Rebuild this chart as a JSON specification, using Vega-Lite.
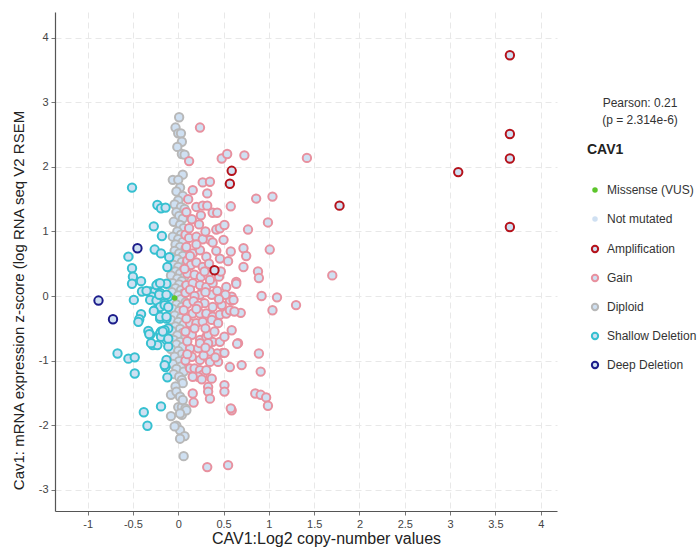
{
  "$schema": "https://vega.github.io/schema/vega-lite/v6.json",
  "width": 502,
  "height": 499,
  "autosize": "none",
  "padding": {"left": 55, "top": 12, "right": 143, "bottom": 39},
  "background": "white",
  "title": {
    "text": ["Pearson: 0.21", "(p = 2.314e-6)"],
    "anchor": "end",
    "frame": "group",
    "align": "center",
    "baseline": "bottom",
    "offset": 0,
    "dx": 83,
    "dy": 127,
    "fontSize": 12,
    "fontWeight": "normal",
    "font": "Liberation Sans",
    "color": "#333",
    "lineHeight": 17
  },
  "data": {
    "values": [
      {"x":0.01,"y":2.77,"c":"Diploid"},{"x":-0.03,"y":2.61,"c":"Diploid"},{"x":0.0,"y":2.52,"c":"Diploid"},{"x":0.03,"y":2.52,"c":"Diploid"},{"x":0.04,"y":2.39,"c":"Diploid"},{"x":-0.01,"y":2.31,"c":"Diploid"},{"x":0.04,"y":2.2,"c":"Diploid"},{"x":0.07,"y":2.19,"c":"Diploid"},{"x":0.05,"y":1.88,"c":"Diploid"},{"x":-0.06,"y":1.8,"c":"Diploid"},{"x":0.0,"y":1.8,"c":"Diploid"},
      {"x":0.02,"y":1.68,"c":"Diploid"},{"x":-0.02,"y":1.62,"c":"Diploid"},{"x":0.05,"y":1.55,"c":"Diploid"},{"x":0.0,"y":1.48,"c":"Diploid"},{"x":-0.04,"y":1.42,"c":"Diploid"},{"x":0.03,"y":1.38,"c":"Diploid"},{"x":0.07,"y":1.35,"c":"Diploid"},{"x":-0.02,"y":1.3,"c":"Diploid"},{"x":0.01,"y":1.24,"c":"Diploid"},{"x":0.05,"y":1.2,"c":"Diploid"},{"x":-0.05,"y":1.15,"c":"Diploid"},{"x":0.02,"y":1.1,"c":"Diploid"},{"x":0.06,"y":1.05,"c":"Diploid"},{"x":-0.01,"y":1.0,"c":"Diploid"},{"x":0.03,"y":0.95,"c":"Diploid"},{"x":-0.06,"y":0.92,"c":"Diploid"},{"x":0.0,"y":0.88,"c":"Diploid"},{"x":0.05,"y":0.84,"c":"Diploid"},{"x":-0.03,"y":0.8,"c":"Diploid"},{"x":0.02,"y":0.76,"c":"Diploid"},{"x":0.08,"y":0.73,"c":"Diploid"},{"x":-0.04,"y":0.7,"c":"Diploid"},{"x":0.01,"y":0.66,"c":"Diploid"},{"x":0.05,"y":0.62,"c":"Diploid"},{"x":-0.07,"y":0.6,"c":"Diploid"},{"x":-0.01,"y":0.57,"c":"Diploid"},{"x":0.04,"y":0.53,"c":"Diploid"},{"x":0.09,"y":0.5,"c":"Diploid"},{"x":-0.05,"y":0.48,"c":"Diploid"},{"x":0.0,"y":0.45,"c":"Diploid"},{"x":0.06,"y":0.41,"c":"Diploid"},{"x":-0.03,"y":0.38,"c":"Diploid"},{"x":0.02,"y":0.35,"c":"Diploid"},{"x":-0.08,"y":0.32,"c":"Diploid"},{"x":0.07,"y":0.3,"c":"Diploid"},{"x":-0.01,"y":0.27,"c":"Diploid"},{"x":0.04,"y":0.23,"c":"Diploid"},{"x":-0.06,"y":0.2,"c":"Diploid"},{"x":0.01,"y":0.18,"c":"Diploid"},{"x":0.08,"y":0.15,"c":"Diploid"},{"x":-0.03,"y":0.12,"c":"Diploid"},{"x":0.03,"y":0.09,"c":"Diploid"},{"x":-0.07,"y":0.06,"c":"Diploid"},{"x":0.06,"y":0.04,"c":"Diploid"},{"x":0.0,"y":0.01,"c":"Diploid"},{"x":0.03,"y":-0.05,"c":"Diploid"},{"x":-0.08,"y":-0.08,"c":"Diploid"},{"x":0.08,"y":-0.1,"c":"Diploid"},{"x":-0.02,"y":-0.13,"c":"Diploid"},{"x":0.04,"y":-0.17,"c":"Diploid"},{"x":-0.06,"y":-0.2,"c":"Diploid"},{"x":0.01,"y":-0.23,"c":"Diploid"},{"x":0.07,"y":-0.27,"c":"Diploid"},{"x":-0.04,"y":-0.3,"c":"Diploid"},{"x":0.03,"y":-0.34,"c":"Diploid"},{"x":-0.08,"y":-0.37,"c":"Diploid"},{"x":0.0,"y":-0.4,"c":"Diploid"},{"x":0.06,"y":-0.44,"c":"Diploid"},{"x":-0.03,"y":-0.47,"c":"Diploid"},{"x":0.02,"y":-0.51,"c":"Diploid"},{"x":-0.07,"y":-0.54,"c":"Diploid"},{"x":0.05,"y":-0.57,"c":"Diploid"},{"x":-0.01,"y":-0.61,"c":"Diploid"},{"x":0.08,"y":-0.64,"c":"Diploid"},{"x":-0.05,"y":-0.68,"c":"Diploid"},{"x":0.02,"y":-0.71,"c":"Diploid"},{"x":-0.02,"y":-0.75,"c":"Diploid"},{"x":0.05,"y":-0.79,"c":"Diploid"},{"x":-0.08,"y":-0.82,"c":"Diploid"},{"x":0.0,"y":-0.85,"c":"Diploid"},{"x":0.04,"y":-0.9,"c":"Diploid"},{"x":-0.04,"y":-0.94,"c":"Diploid"},{"x":0.07,"y":-0.97,"c":"Diploid"},{"x":0.01,"y":-1.01,"c":"Diploid"},{"x":-0.06,"y":-1.05,"c":"Diploid"},{"x":0.03,"y":-1.09,"c":"Diploid"},{"x":-0.02,"y":-1.13,"c":"Diploid"},{"x":0.06,"y":-1.17,"c":"Diploid"},{"x":-0.05,"y":-1.21,"c":"Diploid"},{"x":0.01,"y":-1.25,"c":"Diploid"},{"x":0.04,"y":-1.3,"c":"Diploid"},{"x":0.05,"y":-1.35,"c":"Diploid"},{"x":-0.03,"y":-1.4,"c":"Diploid"},
      {"x":-0.08,"y":-1.53,"c":"Diploid"},{"x":-0.02,"y":-1.48,"c":"Diploid"},{"x":0.02,"y":-1.56,"c":"Diploid"},{"x":0.0,"y":-1.72,"c":"Diploid"},{"x":0.04,"y":-1.72,"c":"Diploid"},{"x":0.08,"y":-1.74,"c":"Diploid"},{"x":-0.08,"y":-1.86,"c":"Diploid"},{"x":0.04,"y":-1.84,"c":"Diploid"},{"x":-0.02,"y":-2.01,"c":"Diploid"},{"x":0.02,"y":-2.08,"c":"Diploid"},{"x":0.07,"y":-2.17,"c":"Diploid"},{"x":0.02,"y":-2.21,"c":"Diploid"},{"x":0.06,"y":-2.48,"c":"Diploid"},{"x":0.05,"y":-1.61,"c":"Diploid"},{"x":0.09,"y":-1.77,"c":"Diploid"},{"x":-0.04,"y":-2.02,"c":"Diploid"},{"x":0.02,"y":-1.82,"c":"Diploid"},
      {"x":-0.51,"y":1.68,"c":"Shallow Deletion"},{"x":-0.23,"y":1.41,"c":"Shallow Deletion"},{"x":-0.19,"y":1.36,"c":"Shallow Deletion"},{"x":-0.14,"y":1.37,"c":"Shallow Deletion"},{"x":-0.27,"y":1.08,"c":"Shallow Deletion"},{"x":-0.18,"y":0.93,"c":"Shallow Deletion"},{"x":-0.26,"y":0.72,"c":"Shallow Deletion"},{"x":-0.19,"y":0.66,"c":"Shallow Deletion"},{"x":-0.55,"y":0.61,"c":"Shallow Deletion"},{"x":-0.51,"y":0.43,"c":"Shallow Deletion"},{"x":-0.5,"y":0.3,"c":"Shallow Deletion"},{"x":-0.51,"y":0.19,"c":"Shallow Deletion"},{"x":-0.41,"y":0.23,"c":"Shallow Deletion"},{"x":-0.4,"y":0.07,"c":"Shallow Deletion"},{"x":-0.49,"y":-0.06,"c":"Shallow Deletion"},{"x":-0.31,"y":0.07,"c":"Shallow Deletion"},{"x":-0.26,"y":0.07,"c":"Shallow Deletion"},{"x":-0.22,"y":0.19,"c":"Shallow Deletion"},{"x":-0.13,"y":0.19,"c":"Shallow Deletion"},{"x":-0.2,"y":0.05,"c":"Shallow Deletion"},{"x":-0.29,"y":-0.01,"c":"Shallow Deletion"},{"x":-0.31,"y":-0.06,"c":"Shallow Deletion"},{"x":-0.11,"y":-0.01,"c":"Shallow Deletion"},{"x":-0.24,"y":-0.07,"c":"Shallow Deletion"},{"x":-0.15,"y":-0.11,"c":"Shallow Deletion"},{"x":-0.26,"y":-0.22,"c":"Shallow Deletion"},{"x":-0.2,"y":-0.17,"c":"Shallow Deletion"},{"x":-0.41,"y":-0.28,"c":"Shallow Deletion"},{"x":-0.43,"y":-0.36,"c":"Shallow Deletion"},{"x":-0.44,"y":-0.4,"c":"Shallow Deletion"},{"x":-0.2,"y":-0.35,"c":"Shallow Deletion"},{"x":-0.13,"y":-0.35,"c":"Shallow Deletion"},{"x":-0.11,"y":-0.5,"c":"Shallow Deletion"},{"x":-0.19,"y":-0.55,"c":"Shallow Deletion"},{"x":-0.15,"y":-0.53,"c":"Shallow Deletion"},{"x":-0.33,"y":-0.54,"c":"Shallow Deletion"},{"x":-0.31,"y":-0.6,"c":"Shallow Deletion"},{"x":-0.28,"y":-0.76,"c":"Shallow Deletion"},{"x":-0.23,"y":-0.76,"c":"Shallow Deletion"},{"x":-0.13,"y":-0.68,"c":"Shallow Deletion"},{"x":-0.11,"y":-0.78,"c":"Shallow Deletion"},{"x":-0.67,"y":-0.89,"c":"Shallow Deletion"},{"x":-0.55,"y":-0.97,"c":"Shallow Deletion"},{"x":-0.48,"y":-0.95,"c":"Shallow Deletion"},{"x":-0.48,"y":-1.2,"c":"Shallow Deletion"},{"x":-0.13,"y":-0.99,"c":"Shallow Deletion"},{"x":-0.14,"y":-1.1,"c":"Shallow Deletion"},{"x":-0.12,"y":-1.26,"c":"Shallow Deletion"},{"x":-0.19,"y":-1.71,"c":"Shallow Deletion"},{"x":-0.38,"y":-1.8,"c":"Shallow Deletion"},{"x":-0.34,"y":-2.01,"c":"Shallow Deletion"},{"x":-0.35,"y":0.08,"c":"Shallow Deletion"},{"x":-0.24,"y":0.17,"c":"Shallow Deletion"},{"x":-0.2,"y":0.2,"c":"Shallow Deletion"},{"x":-0.21,"y":0.02,"c":"Shallow Deletion"},{"x":-0.13,"y":0.02,"c":"Shallow Deletion"},{"x":-0.32,"y":-0.59,"c":"Shallow Deletion"},{"x":-0.2,"y":-0.58,"c":"Shallow Deletion"},{"x":-0.19,"y":-0.63,"c":"Shallow Deletion"},{"x":-0.2,"y":-0.32,"c":"Shallow Deletion"},{"x":-0.13,"y":-0.32,"c":"Shallow Deletion"},{"x":-0.15,"y":-0.14,"c":"Shallow Deletion"},{"x":-0.11,"y":-0.17,"c":"Shallow Deletion"},{"x":-0.27,"y":-0.23,"c":"Shallow Deletion"},{"x":-0.3,"y":-0.73,"c":"Shallow Deletion"},{"x":-0.15,"y":-1.07,"c":"Shallow Deletion"},{"x":-0.11,"y":-0.66,"c":"Shallow Deletion"},{"x":-0.17,"y":-0.55,"c":"Shallow Deletion"},{"x":-0.12,"y":0.45,"c":"Shallow Deletion"},{"x":-0.1,"y":0.6,"c":"Shallow Deletion"},
      {"x":0.12,"y":2.09,"c":"Gain"},{"x":0.24,"y":2.61,"c":"Gain"},{"x":0.48,"y":2.13,"c":"Gain"},{"x":0.54,"y":2.2,"c":"Gain"},{"x":0.73,"y":2.18,"c":"Gain"},{"x":1.42,"y":2.14,"c":"Gain"},{"x":0.27,"y":1.76,"c":"Gain"},{"x":0.35,"y":1.77,"c":"Gain"},{"x":0.16,"y":1.64,"c":"Gain"},{"x":0.32,"y":1.59,"c":"Gain"},{"x":0.86,"y":1.51,"c":"Gain"},{"x":1.04,"y":1.54,"c":"Gain"},{"x":0.58,"y":1.39,"c":"Gain"},{"x":0.2,"y":1.38,"c":"Gain"},{"x":0.27,"y":1.4,"c":"Gain"},{"x":0.32,"y":1.4,"c":"Gain"},{"x":0.38,"y":1.29,"c":"Gain"},{"x":0.43,"y":1.29,"c":"Gain"},{"x":0.15,"y":1.19,"c":"Gain"},{"x":0.23,"y":1.11,"c":"Gain"},{"x":0.42,"y":1.03,"c":"Gain"},{"x":0.46,"y":1.05,"c":"Gain"},{"x":0.51,"y":1.1,"c":"Gain"},{"x":0.77,"y":1.03,"c":"Gain"},{"x":0.99,"y":1.14,"c":"Gain"},{"x":0.35,"y":0.87,"c":"Gain"},{"x":0.38,"y":0.83,"c":"Gain"},{"x":0.5,"y":0.87,"c":"Gain"},{"x":0.58,"y":0.69,"c":"Gain"},{"x":0.72,"y":0.74,"c":"Gain"},{"x":0.75,"y":0.62,"c":"Gain"},{"x":1.01,"y":0.72,"c":"Gain"},{"x":0.09,"y":0.76,"c":"Gain"},{"x":0.16,"y":0.66,"c":"Gain"},{"x":0.24,"y":0.71,"c":"Gain"},{"x":0.31,"y":0.61,"c":"Gain"},{"x":0.46,"y":0.58,"c":"Gain"},{"x":0.55,"y":0.54,"c":"Gain"},{"x":0.72,"y":0.45,"c":"Gain"},{"x":0.88,"y":0.38,"c":"Gain"},{"x":0.89,"y":0.28,"c":"Gain"},{"x":1.7,"y":0.32,"c":"Gain"},{"x":0.64,"y":0.22,"c":"Gain"},{"x":0.64,"y":0.19,"c":"Gain"},{"x":0.53,"y":0.14,"c":"Gain"},{"x":0.92,"y":0.0,"c":"Gain"},{"x":1.09,"y":-0.02,"c":"Gain"},{"x":1.3,"y":-0.14,"c":"Gain"},{"x":1.04,"y":-0.22,"c":"Gain"},{"x":0.59,"y":-0.01,"c":"Gain"},{"x":0.59,"y":-0.07,"c":"Gain"},{"x":0.69,"y":-0.26,"c":"Gain"},{"x":0.59,"y":-0.53,"c":"Gain"},{"x":0.66,"y":-0.73,"c":"Gain"},{"x":0.57,"y":-1.1,"c":"Gain"},{"x":0.7,"y":-1.07,"c":"Gain"},{"x":0.89,"y":-0.89,"c":"Gain"},{"x":0.91,"y":-1.17,"c":"Gain"},{"x":0.16,"y":-1.51,"c":"Gain"},{"x":0.17,"y":-1.65,"c":"Gain"},{"x":0.33,"y":-1.41,"c":"Gain"},{"x":0.33,"y":-1.48,"c":"Gain"},{"x":0.35,"y":-1.59,"c":"Gain"},{"x":0.51,"y":-1.38,"c":"Gain"},{"x":0.51,"y":-1.48,"c":"Gain"},{"x":0.85,"y":-1.51,"c":"Gain"},{"x":0.91,"y":-1.53,"c":"Gain"},{"x":0.97,"y":-1.57,"c":"Gain"},{"x":0.99,"y":-1.7,"c":"Gain"},{"x":0.59,"y":-1.77,"c":"Gain"},{"x":0.58,"y":-1.74,"c":"Gain"},{"x":0.32,"y":-2.65,"c":"Gain"},{"x":0.55,"y":-2.62,"c":"Gain"},{"x":0.37,"y":-1.28,"c":"Gain"},{"x":0.49,"y":-0.88,"c":"Gain"},{"x":0.43,"y":-0.89,"c":"Gain"},{"x":0.51,"y":-0.88,"c":"Gain"},{"x":0.65,"y":-0.74,"c":"Gain"},
      {"x":0.16,"y":-0.27,"c":"Gain"},{"x":0.24,"y":-0.27,"c":"Gain"},{"x":0.31,"y":-0.27,"c":"Gain"},{"x":0.38,"y":-0.32,"c":"Gain"},{"x":0.46,"y":-0.29,"c":"Gain"},{"x":0.53,"y":-0.27,"c":"Gain"},{"x":0.57,"y":-0.22,"c":"Gain"},{"x":0.62,"y":-0.24,"c":"Gain"},{"x":0.13,"y":-0.42,"c":"Gain"},{"x":0.2,"y":-0.42,"c":"Gain"},{"x":0.27,"y":-0.4,"c":"Gain"},{"x":0.37,"y":-0.37,"c":"Gain"},{"x":0.44,"y":-0.42,"c":"Gain"},{"x":0.13,"y":-0.58,"c":"Gain"},{"x":0.24,"y":-0.68,"c":"Gain"},{"x":0.31,"y":-0.63,"c":"Gain"},{"x":0.38,"y":-0.71,"c":"Gain"},{"x":0.46,"y":-0.71,"c":"Gain"},{"x":0.51,"y":-0.63,"c":"Gain"},{"x":0.13,"y":-0.81,"c":"Gain"},{"x":0.22,"y":-0.81,"c":"Gain"},{"x":0.35,"y":-0.86,"c":"Gain"},{"x":0.15,"y":-0.94,"c":"Gain"},{"x":0.24,"y":-0.99,"c":"Gain"},{"x":0.13,"y":-1.12,"c":"Gain"},{"x":0.18,"y":-1.12,"c":"Gain"},{"x":0.24,"y":-1.15,"c":"Gain"},{"x":0.27,"y":-1.22,"c":"Gain"},{"x":0.22,"y":-1.25,"c":"Gain"},{"x":0.09,"y":0.17,"c":"Gain"},{"x":0.16,"y":0.2,"c":"Gain"},{"x":0.24,"y":0.17,"c":"Gain"},{"x":0.31,"y":0.14,"c":"Gain"},{"x":0.38,"y":0.2,"c":"Gain"},{"x":0.24,"y":0.02,"c":"Gain"},{"x":0.37,"y":0.02,"c":"Gain"},{"x":0.29,"y":-0.11,"c":"Gain"},{"x":0.38,"y":-0.17,"c":"Gain"},{"x":0.48,"y":-0.14,"c":"Gain"},{"x":0.57,"y":-0.06,"c":"Gain"},{"x":0.61,"y":-0.06,"c":"Gain"},{"x":0.15,"y":-0.6,"c":"Gain"},{"x":0.33,"y":-0.6,"c":"Gain"},{"x":0.24,"y":-0.73,"c":"Gain"},{"x":0.33,"y":-0.73,"c":"Gain"},{"x":0.44,"y":-1.02,"c":"Gain"},{"x":0.35,"y":-1.02,"c":"Gain"},{"x":0.26,"y":-1.29,"c":"Gain"},{"x":0.16,"y":-1.25,"c":"Gain"},{"x":0.31,"y":-1.15,"c":"Gain"},
      {"x":0.08,"y":0.95,"c":"Gain"},{"x":0.12,"y":0.9,"c":"Gain"},{"x":0.2,"y":0.92,"c":"Gain"},{"x":0.27,"y":0.88,"c":"Gain"},{"x":0.1,"y":0.55,"c":"Gain"},{"x":0.14,"y":0.48,"c":"Gain"},{"x":0.2,"y":0.52,"c":"Gain"},{"x":0.27,"y":0.45,"c":"Gain"},{"x":0.34,"y":0.5,"c":"Gain"},{"x":0.1,"y":0.35,"c":"Gain"},{"x":0.18,"y":0.33,"c":"Gain"},{"x":0.25,"y":0.3,"c":"Gain"},{"x":0.33,"y":0.32,"c":"Gain"},{"x":0.45,"y":0.3,"c":"Gain"},{"x":0.08,"y":0.05,"c":"Gain"},{"x":0.13,"y":0.1,"c":"Gain"},{"x":0.18,"y":0.0,"c":"Gain"},{"x":0.3,"y":0.06,"c":"Gain"},{"x":0.43,"y":0.08,"c":"Gain"},{"x":0.1,"y":-0.12,"c":"Gain"},{"x":0.17,"y":-0.08,"c":"Gain"},{"x":0.22,"y":-0.15,"c":"Gain"},{"x":0.09,"y":-0.35,"c":"Gain"},{"x":0.1,"y":-0.7,"c":"Gain"},{"x":0.08,"y":-1.0,"c":"Gain"},{"x":0.28,"y":-0.92,"c":"Gain"},{"x":0.4,"y":-0.55,"c":"Gain"},{"x":0.3,"y":-0.5,"c":"Gain"},{"x":0.2,"y":-0.2,"c":"Gain"},{"x":0.12,"y":1.05,"c":"Gain"},{"x":0.09,"y":1.3,"c":"Gain"},{"x":0.11,"y":1.5,"c":"Gain"},{"x":0.25,"y":1.25,"c":"Gain"},{"x":0.3,"y":1.0,"c":"Gain"},{"x":0.42,"y":0.7,"c":"Gain"},{"x":0.13,"y":0.62,"c":"Gain"},{"x":0.2,"y":0.8,"c":"Gain"},{"x":0.47,"y":0.38,"c":"Gain"},{"x":0.52,"y":0.02,"c":"Gain"},{"x":0.45,"y":-0.05,"c":"Gain"},{"x":0.08,"y":-0.55,"c":"Gain"},{"x":0.1,"y":-0.9,"c":"Gain"},{"x":0.29,"y":0.38,"c":"Gain"},{"x":0.35,"y":0.25,"c":"Gain"},{"x":0.07,"y":0.42,"c":"Gain"},{"x":0.06,"y":-0.22,"c":"Gain"},{"x":0.41,"y":-0.95,"c":"Gain"},{"x":0.3,"y":-0.8,"c":"Gain"},{"x":0.18,"y":-0.5,"c":"Gain"},
      {"x":3.66,"y":3.73,"c":"Amplification"},{"x":3.66,"y":2.51,"c":"Amplification"},{"x":3.66,"y":2.13,"c":"Amplification"},{"x":3.09,"y":1.92,"c":"Amplification"},{"x":3.66,"y":1.07,"c":"Amplification"},{"x":0.59,"y":1.94,"c":"Amplification"},{"x":0.57,"y":1.74,"c":"Amplification"},{"x":1.78,"y":1.4,"c":"Amplification"},{"x":0.4,"y":0.4,"c":"Amplification"},
      {"x":-0.45,"y":0.74,"c":"Deep Deletion"},{"x":-0.88,"y":-0.07,"c":"Deep Deletion"},{"x":-0.72,"y":-0.36,"c":"Deep Deletion"},
      {"x":-0.04,"y":-0.03,"c":"Missense (VUS)"}
    ]
  },
  "encoding": {
    "x": {
      "field": "x",
      "type": "quantitative",
      "scale": {"domain": [-1.36, 4.18], "nice": false, "zero": false},
      "axis": {
        "title": "CAV1:Log2 copy-number values",
        "titleFontSize": 16,
        "values": [-1, -0.5, 0, 0.5, 1, 1.5, 2, 2.5, 3, 3.5, 4],
        "labelExpr": "'' + datum.value",
        "titleX": 271,
        "titleY": 27,
        "titleBaseline": "middle",
        "titleAlign": "center"
      }
    },
    "y": {
      "field": "y",
      "type": "quantitative",
      "scale": {"domain": [-3.33, 4.4], "nice": false, "zero": false},
      "axis": {
        "title": "Cav1: mRNA expression z-score (log RNA seq V2 RSEM",
        "titleFontSize": 15,
        "values": [-3, -2, -1, 0, 1, 2, 3, 4],
        "labelExpr": "'' + datum.value",
        "titleX": -37,
        "titleY": 288,
        "titleBaseline": "middle",
        "titleAlign": "center"
      }
    }
  },
  "layer": [
    {
      "transform": [{"filter": "datum.c !== 'Missense (VUS)'"}],
      "mark": {"type": "point", "filled": false, "opacity": 1, "fillOpacity": 1, "strokeWidth": 2, "size": 70},
      "encoding": {
        "stroke": {
          "field": "c",
          "type": "nominal",
          "scale": {
            "domain": ["Amplification", "Gain", "Diploid", "Shallow Deletion", "Deep Deletion"],
            "range": ["#b5121b", "#e8919f", "#b8b8b8", "#36c0d0", "#1c1c8a"]
          },
          "legend": {
            "title": null,
            "legendX": 532,
            "legendY": 231,
            "rowPadding": 13,
            "symbolFillColor": "transparent",
            "symbolStrokeWidth": 2,
            "symbolSize": 40
          }
        },
        "fill": {
          "datum": "Not mutated",
          "type": "nominal",
          "scale": {
            "domain": ["Missense (VUS)", "Not mutated"],
            "range": ["#5cc52b", "#cfe0f2"]
          },
          "legend": {
            "title": "CAV1",
            "legendX": 532,
            "legendY": 131,
            "rowPadding": 17,
            "symbolStrokeWidth": 0,
            "symbolStrokeColor": "transparent",
            "symbolSize": 30
          }
        }
      }
    },
    {
      "transform": [{"filter": "datum.c === 'Missense (VUS)'"}],
      "mark": {"type": "point", "filled": true, "opacity": 1, "strokeWidth": 0, "size": 30},
      "encoding": {
        "fill": {"datum": "Missense (VUS)", "type": "nominal"}
      }
    }
  ],
  "config": {
    "view": {"stroke": null},
    "font": "Liberation Sans",
    "legend": {
      "orient": "none",
      "padding": 0,
      "titleFontSize": 14,
      "titleFontWeight": "bold",
      "titleColor": "#222",
      "titleFont": "Liberation Sans",
      "titlePadding": 27,
      "labelFont": "Liberation Sans",
      "labelFontSize": 12,
      "labelColor": "#333",
      "symbolType": "circle",
      "symbolOffset": 2,
      "labelOffset": 6
    },
    "axis": {
      "domainColor": "#555",
      "domainWidth": 1.2,
      "tickColor": "#777",
      "tickSize": 4,
      "labelColor": "#444",
      "labelFontSize": 11,
      "labelFont": "Liberation Sans",
      "labelPadding": 3,
      "titleFont": "Liberation Sans",
      "titleFontSize": 15,
      "titleFontWeight": "normal",
      "titleColor": "#222",
      "gridColor": "#e8e8e8",
      "gridDash": [6, 4],
      "gridWidth": 1
    }
  }
}
